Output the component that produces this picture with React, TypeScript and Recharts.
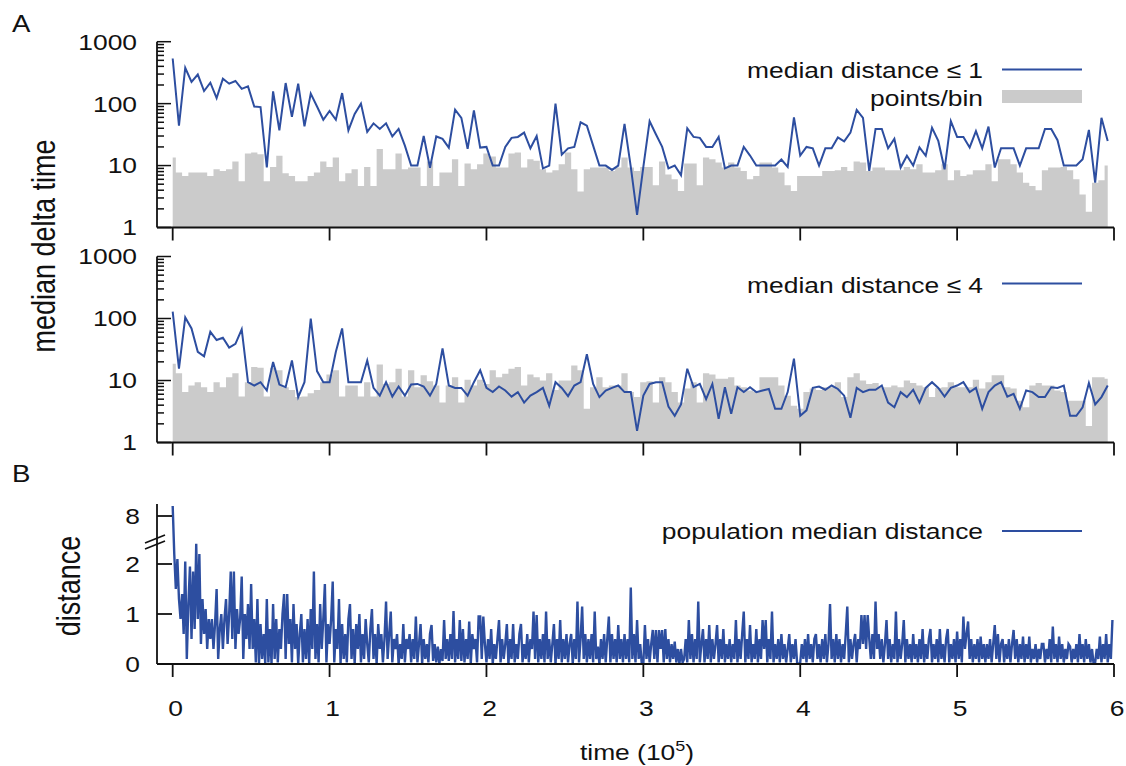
import React from "react"
import { ComposedChart, Area, Line, XAxis, YAxis } from "recharts"

const FONT = "Liberation Sans, Arial, sans-serif"
const BLUE = "#2d4ea0"
const GRAY = "#cbcbcb"
const INK = "#111"

// bins are 4000 steps wide, time axis in units of 10^5
const binWidth = 0.04
const stepWidth = 0.01

const timeTicks = [0, 1, 2, 3, 4, 5, 6]
const logTicks = [
  1, 2, 3, 4, 5, 6, 7, 8, 9, 10, 20, 30, 40, 50, 60, 70, 80, 90, 100, 200, 300, 400, 500, 600, 700, 800,
  900, 1000,
]
const logLabels = [1, 10, 100, 1000]
const distTicks = [0, 1, 2, 8]

// median delta time, median distance <= 1
const medianD1 = [
  535, 44, 380, 224, 295, 160, 218, 123, 252, 210, 232, 173, 190, 90, 88, 9.3, 158, 37, 215, 61, 210, 43, 145, 90, 55,
  76, 55, 148, 37, 68, 100, 35, 48, 39, 48, 29.5, 39, 21, 10, 10, 30, 9.2, 29.5, 27, 19.5, 80, 59, 18.6, 78, 19.5,
  20, 10, 10, 20, 28, 29, 34, 19, 30, 9, 10, 100, 15, 19, 20, 50, 44, 21, 10, 10, 8.5, 10, 47, 9.5, 1.6,
  9.5, 52, 32, 20, 9, 10, 7, 40, 29, 28, 20, 20, 29, 9, 10, 10, 20, 14.5, 10, 10, 10, 10, 12.5, 9.5, 60,
  14.5, 20, 19, 10, 19, 19, 28.5, 24.6, 34, 79, 59, 8.2, 39, 39, 19, 27, 9.3, 14.4, 10, 19.6, 14.4, 40.6, 25, 8.7, 52,
  29, 29, 19.6, 36, 19, 42.5, 9.3, 19, 19, 19, 10, 19, 19, 19, 39, 39, 25.7, 10, 10, 10, 12.7, 37.6, 5.3, 59, 25,
]

// points per bin, upper panel
const points1 = [
  13.5, 7.7, 6.8, 7.7, 7.7, 7.7, 6.8, 8.7, 8.2, 8.7, 11.6, 5.6, 15.7, 16.3, 15.3, 5.6, 9.5, 14.4, 7.5, 6.8, 5.6, 5.6,
  6.8, 7.7, 11.6, 9.5, 13.5, 5.6, 7.5, 8.7, 4.7, 9.5, 4.7, 18.5, 8.7, 8.7, 15.7, 8.7, 9.3, 9.3, 4.7, 11.6, 4.7, 7.7,
  7.7, 12.7, 4.7, 10.8, 8.7, 10.5, 15.7, 14, 9.3, 9.3, 15.7, 16.3, 9.3, 12.7, 12, 8.7, 7.7, 8.4, 10.5, 16.3, 8.7, 3.8,
  8.7, 9.3, 9.3, 9.3, 8.2, 9.3, 13.5, 9.3, 8.2, 9.5, 9.5, 4.8, 11.6, 7.2, 6.0, 3.9, 10.8, 10.8, 4.8, 13.5, 12.7, 11.2,
  9.3, 11.2, 9.3, 8.2, 6.0, 6.8, 11.2, 11.2, 9.3, 7.7, 4.8, 3.9, 6.8, 6.8, 6.8, 6.8, 8.2, 8.2, 8.4, 9.5, 8.2, 11.6,
  11.2, 8.2, 9.3, 9.3, 8.4, 8.4, 8.4, 9.5, 8.7, 10.5, 7.7, 7.7, 8.4, 10.5, 5.8, 8.4, 6.8, 7.2, 8.4, 8.4, 10.5, 5.6,
  12.7, 12.7, 10.5, 7.7, 5.3, 4.7, 4.0, 8.4, 9.3, 9.3, 9.5, 8.4, 6.0, 3.4, 1.8, 5.3, 5.8, 10,
]

// median delta time, median distance <= 4
const medianD4 = [
  129, 15.5, 104, 69, 29, 24.5, 61, 45, 49, 34, 39, 67, 9.4, 8.3, 9.4, 6.9, 19.9, 8.6, 7.8, 21, 5.4, 9.4, 100, 14.2,
  9.4, 9.4, 29, 69, 9.4, 9.4, 9.4, 21, 7.6, 5.7, 9.4, 5.5, 8, 5.7, 8.6, 8.8, 8, 5.7, 8.8, 33, 8.3, 7.6, 7.6, 5.7, 9.4,
  14.6, 7.6, 6.5, 8.0, 6.9, 5.5, 6.5, 4.4, 5.7, 6.5, 7.6, 3.9, 9.4, 7.6, 5.6, 8.3, 9.4, 26.5, 8.8, 5.4, 6.9, 7.6, 8.3,
  6.5, 6.5, 1.54, 5.7, 8.8, 9.4, 9.4, 3.8, 2.7, 4.1, 15.5, 7.8, 8.8, 5.0, 8.8, 2.4, 7.8, 2.9, 7.8, 6.5, 7.8, 6.5, 6.9,
  7.3, 3.5, 3.5, 6.5, 22.5, 2.7, 3.3, 7.6, 8.0, 7.1, 8.3, 7.3, 5.7, 2.5, 7.6, 6.5, 7.1, 7.1, 8.3, 4.4, 3.7, 6.5, 5.4,
  7.1, 4.4, 7.6, 9.4, 7.6, 5.5, 7.6, 8.3, 9.4, 6.5, 7.6, 3.5, 6.5, 8.3, 9.4, 5.5, 6.1, 3.5, 6.9, 6.5, 5.4, 5.4, 7.8,
  7.6, 8.3, 2.7, 2.7, 3.7, 9.1, 4.1, 5.4, 8.3,
]

// points per bin, lower panel
const points4 = [
  18.7, 13.1, 6.5, 8.3, 9.4, 7.8, 6.5, 9.4, 7.8, 11.3, 13.1, 5.5, 9.4, 16.5, 16.1, 5.5, 16.1, 14.6, 7.8, 7.0, 5.4, 5.5,
  6.2, 7.0, 9.4, 12.5, 14.6, 5.5, 8.3, 8.3, 5.5, 9.4, 5.5, 18.2, 8.8, 9.4, 15.5, 5.5, 14.6, 7.8, 12.1, 9.7, 8.3, 4.4,
  8.3, 11.3, 4.4, 10.3, 8.3, 10.3, 8.8, 14.6, 11.3, 12.8, 15.5, 16.5, 8.3, 12.5, 11.3, 10, 13.1, 7.0, 10, 10, 17.5,
  14.6, 3.5, 7.8, 11.3, 7.8, 8.3, 8.3, 13.1, 6.5, 5.4, 9.4, 9.7, 4.4, 11.3, 9.4, 6.5, 4.4, 7.4, 9.4, 4.4, 13.1, 12.5,
  10.7, 10.7, 11.3, 8.3, 7.8, 6.9, 6.5, 11.3, 11.3, 11.3, 8.3, 5.7, 3.9, 3.5, 6.5, 7.4, 7.0, 7.8, 7.8, 9.4, 5.4, 11.3,
  13.1, 10, 8.8, 9.1, 7.8, 7.8, 8.3, 7.8, 10, 9.1, 8.3, 7.8, 5.4, 7.6, 7.8, 9.4, 7.8, 7.8, 7.8, 10.3, 7.4, 9.4, 12.1,
  12.1, 7.8, 7.4, 4.7, 3.7, 8.3, 9.1, 8.3, 8.3, 6.9, 6.5, 4.7, 4.7, 4.7, 1.85, 11.3, 11.3, 10.7,
]

// population median distance, one value every 1000 steps
const distance = [
  10, 2.2, 1.5, 2.1, 1.3, 0.9, 1.4, 0.6, 2.05, 0.1, 1.2, 1.95, 0.5, 1.85, 0.7, 2.45, 0.9, 2.2, 0.4, 1.3, 0.6, 1.1, 0.3, 0.9, 0.5,
  0.9, 0.3, 0.8, 1.5, 0.1, 0.7, 1.0, 0.3, 0.9, 1.3, 0.4, 1.0, 1.85, 0.5, 1.85, 0.3, 1.1, 0.6, 0.9, 1.75, 0.1, 1.0, 0.5, 1.2, 0.3,
  1.6, 0.3, 0.9, 0.03, 1.3, 0.0, 0.8, 0.1, 0.6, 0.0, 1.3, 0.03, 0.7, 0.0, 1.2, 0.1, 0.9, 0.03, 0.7, 0.3, 1.0, 1.4, 0.1, 1.4, 0.4,
  0.9, 0.03, 1.2, 0.3, 0.8, 0.0, 0.6, 1.0, 0.03, 0.7, 0.1, 0.9, 0.0, 1.1, 0.3, 1.85, 0.1, 0.8, 0.03, 1.2, 0.3, 0.9, 1.6, 0.03, 0.8,
  0.4, 0.9, 1.65, 0.03, 0.7, 0.3, 1.3, 0.0, 0.8, 0.1, 0.6, 0.03, 0.9, 1.2, 0.1, 0.7, 0.0, 0.8, 0.3, 1.0, 0.03, 0.6, 0.1, 0.9, 0.4,
  0.03, 0.7, 1.1, 0.1, 0.6, 0.0, 0.8, 0.3, 0.6, 0.03, 0.5, 1.25, 0.1, 0.6, 1.05, 0.03, 0.5, 0.3, 0.6, 0.0, 0.4, 0.1, 0.8, 0.03, 0.5,
  0.3, 0.6, 0.03, 0.5, 0.1, 0.95, 0.03, 0.4, 0.8, 0.0, 0.5, 0.1, 0.4, 0.03, 0.6, 0.78, 0.06, 0.4, 0.03, 0.35, 0.0, 0.3, 0.06, 0.88, 0.1,
  0.5, 0.06, 0.6, 0.1, 1.06, 0.03, 0.5, 0.1, 0.88, 0.06, 0.7, 0.03, 0.5, 0.1, 0.85, 0.0, 0.6, 0.3, 0.5, 0.03, 0.95, 0.95, 0.1, 0.95, 0.4,
  0.03, 0.5, 0.1, 0.7, 0.0, 0.4, 0.1, 0.5, 0.88, 0.03, 0.5, 0.1, 0.4, 0.8, 0.0, 0.5, 0.1, 0.8, 0.03, 0.4, 0.1, 0.6, 0.8, 0.03, 0.4,
  0.1, 0.6, 0.03, 0.5, 0.3, 1.05, 0.1, 0.98, 0.03, 0.5, 0.1, 0.6, 0.03, 1.05, 0.1, 0.5, 0.03, 0.4, 0.8, 0.0, 0.5, 0.1, 0.88, 0.03, 0.5,
  0.1, 0.6, 0.03, 0.4, 0.6, 0.0, 0.5, 0.1, 1.25, 0.03, 0.5, 1.15, 0.1, 0.6, 0.03, 0.5, 0.1, 0.6, 0.03, 1.05, 0.1, 0.35, 0.0, 0.5, 0.1,
  0.6, 0.03, 0.5, 0.95, 0.03, 0.6, 0.1, 0.5, 0.03, 0.78, 0.1, 0.5, 0.03, 0.6, 0.1, 0.5, 0.03, 1.53, 0.1, 0.6, 0.03, 0.88, 0.1, 0.4, 0.0,
  0.0, 0.78, 0.1, 0.5, 0.03, 0.4, 0.68, 0.1, 0.68, 0.03, 0.68, 0.3, 0.68, 0.03, 0.7, 0.1, 0.5, 0.03, 0.4, 0.1, 0.45, 0.03, 0.3, 0.0, 0.3,
  0.03, 0.1, 0.5, 0.03, 0.88, 0.1, 0.6, 0.03, 0.5, 0.1, 1.25, 0.03, 0.4, 0.7, 0.03, 0.5, 0.1, 0.78, 0.03, 0.5, 0.1, 0.4, 0.78, 0.03, 0.5,
  0.1, 0.7, 0.03, 0.4, 0.1, 0.5, 0.03, 0.4, 0.1, 0.88, 0.03, 0.5, 0.1, 0.6, 1.05, 0.03, 0.5, 0.1, 0.78, 0.03, 0.4, 0.1, 0.7, 0.03, 0.5,
  0.1, 0.88, 0.3, 0.88, 0.03, 0.5, 0.1, 1.05, 0.03, 0.4, 0.1, 0.5, 0.03, 0.6, 0.1, 0.4, 0.03, 0.3, 0.6, 0.03, 0.4, 0.1, 0.5, 0.03, 0.0,
  0.03, 0.4, 0.1, 0.5, 0.03, 0.6, 0.1, 0.4, 0.03, 0.5, 0.6, 0.1, 0.4, 0.03, 0.5, 0.1, 0.6, 0.03, 0.4, 1.2, 0.1, 0.5, 0.03, 0.6, 0.1,
  0.5, 0.03, 0.4, 0.1, 0.6, 1.15, 0.03, 0.5, 0.1, 0.4, 0.6, 0.03, 0.5, 0.3, 0.98, 0.4, 0.98, 0.3, 0.98, 0.5, 0.1, 0.6, 0.1, 1.25, 0.3,
  0.6, 0.1, 0.5, 0.03, 0.4, 0.88, 0.1, 0.5, 0.03, 0.4, 0.1, 1.05, 0.03, 0.5, 0.1, 0.4, 0.88, 0.03, 0.5, 0.1, 0.4, 0.03, 0.6, 0.1, 0.4,
  0.03, 0.5, 0.1, 0.7, 0.03, 0.4, 0.1, 0.5, 0.7, 0.03, 0.4, 0.1, 0.5, 0.03, 0.7, 0.1, 0.4, 0.03, 0.5, 0.7, 0.03, 0.4, 0.1, 0.5, 0.03,
  0.65, 0.1, 0.5, 0.03, 0.95, 0.3, 0.6, 0.85, 0.1, 0.5, 0.03, 0.4, 0.1, 0.5, 0.03, 0.55, 0.1, 0.4, 0.03, 0.4, 0.1, 0.5, 0.03, 0.4, 0.78,
  0.1, 0.6, 0.03, 0.4, 0.5, 0.03, 0.4, 0.1, 0.5, 0.03, 0.4, 0.68, 0.1, 0.5, 0.03, 0.4, 0.1, 0.55, 0.03, 0.4, 0.1, 0.55, 0.03, 0.3, 0.1,
  0.4, 0.03, 0.3, 0.1, 0.4, 0.4, 0.03, 0.3, 0.1, 0.5, 0.03, 0.75, 0.1, 0.4, 0.03, 0.55, 0.1, 0.4, 0.03, 0.3, 0.1, 0.4, 0.35, 0.03, 0.3,
  0.1, 0.4, 0.03, 0.6, 0.1, 0.4, 0.03, 0.5, 0.1, 0.4, 0.03, 0.3, 0.0, 0.03, 0.3, 0.1, 0.55, 0.03, 0.4, 0.1, 0.6, 0.03, 0.4, 0.1, 0.88,
]

// broken distance axis: linear up to 2.4, compressed above
const squash = (v: number) => (v <= 2.4 ? v : 2.4 + (v - 2.4) * 0.1)
const BREAK_AT = 2.48

const rows1 = medianD1.map((m, i) => ({ t: i * binWidth, m, n: points1[i] }))
const rows4 = medianD4.map((m, i) => ({ t: i * binWidth, m, n: points4[i] }))
const distRows = distance.map((d, i) => ({ t: i * stepWidth, d: squash(d) }))

const axisStyle = { stroke: INK, strokeWidth: 1.8 }

function Txt({ x, y, anchor = "start", size = 22, rotate = false, dy, children }: any) {
  return (
    <text
      transform={`translate(${x},${y}) scale(1.2,1)${rotate ? " rotate(-90)" : ""}`}
      textAnchor={anchor}
      dy={dy}
      fontFamily={FONT}
      fontSize={size}
      fill={INK}
    >
      {children}
    </text>
  )
}

function LogTick({ x, y, payload }: any) {
  const major = logLabels.includes(payload.value)
  return (
    <g>
      <line x1={x} x2={x + (major ? 14 : 7)} y1={y} y2={y} stroke={INK} strokeWidth={1.5} />
      {major && (
        <Txt x={x - 20} y={y} anchor="end" dy="0.36em">
          {payload.value}
        </Txt>
      )}
    </g>
  )
}

function DistTick({ x, y, payload }: any) {
  if (payload.value === BREAK_AT) {
    return (
      <g stroke={INK} strokeWidth={1.6}>
        <line x1={x - 12} y1={y + 3} x2={x + 8} y2={y - 5} />
        <line x1={x - 12} y1={y + 9} x2={x + 8} y2={y + 1} />
      </g>
    )
  }
  const label = distTicks.find((d) => Math.abs(squash(d) - payload.value) < 1e-6)
  return (
    <g>
      <line x1={x} x2={x + 15} y1={y} y2={y} stroke={INK} strokeWidth={1.8} />
      <Txt x={x - 17} y={y} anchor="end" dy="0.36em">
        {label}
      </Txt>
    </g>
  )
}

function TimeTick({ x, y, payload }: any) {
  return (
    <Txt x={x + 3} y={y + 39} anchor="middle">
      {payload.value}
    </Txt>
  )
}

function LogPanel({ data, top, height, marginTop }: any) {
  return (
    <div style={{ position: "absolute", left: 0, top }}>
      <ComposedChart width={1126} height={height} data={data} margin={{ top: marginTop, right: 12, bottom: 0, left: 0 }}>
        <XAxis
          dataKey="t"
          type="number"
          domain={[-0.1, 6]}
          ticks={timeTicks}
          allowDataOverflow
          height={22.5}
          tickSize={13}
          tickFormatter={() => ""}
          axisLine={axisStyle}
          tickLine={axisStyle}
        />
        <YAxis
          scale="log"
          type="number"
          domain={[1, 1000]}
          allowDataOverflow
          ticks={logTicks}
          interval={0}
          width={157}
          tickSize={0}
          tickMargin={0}
          tickLine={false}
          axisLine={axisStyle}
          tick={(p: any) => <LogTick {...p} />}
        />
        {/* points/bin as a centred step histogram */}
        <Area
          dataKey="n"
          type="step"
          baseValue={1}
          fill={GRAY}
          fillOpacity={1}
          stroke="none"
          isAnimationActive={false}
        />
        <Line dataKey="m" type="linear" stroke={BLUE} strokeWidth={2} dot={false} isAnimationActive={false} />
      </ComposedChart>
    </div>
  )
}

export default function App() {
  return (
    <div style={{ position: "absolute", left: 0, top: 0, width: 1126, height: 766, background: "#fff" }}>
      <LogPanel data={rows1} top={0} height={250} marginTop={41.7} />
      <LogPanel data={rows4} top={238} height={227} marginTop={18.5} />

      <div style={{ position: "absolute", left: 0, top: 465 }}>
        <ComposedChart width={1126} height={301} data={distRows} margin={{ top: 39, right: 12, bottom: 0, left: 0 }}>
          <XAxis
            dataKey="t"
            type="number"
            domain={[-0.1, 6]}
            ticks={timeTicks}
            allowDataOverflow
            height={102}
            tickSize={13}
            tickMargin={0}
            axisLine={axisStyle}
            tickLine={axisStyle}
            tick={(p: any) => <TimeTick {...p} />}
          />
          <YAxis
            type="number"
            domain={[0, 3.2]}
            allowDataOverflow
            ticks={[...distTicks.map(squash), BREAK_AT]}
            interval={0}
            width={157}
            tickSize={0}
            tickMargin={0}
            tickLine={false}
            axisLine={axisStyle}
            tick={(p: any) => <DistTick {...p} />}
          />
          <Line dataKey="d" type="linear" stroke={BLUE} strokeWidth={2.4} dot={false} isAnimationActive={false} />
        </ComposedChart>
      </div>

      <svg width={1126} height={766} style={{ position: "absolute", left: 0, top: 0, pointerEvents: "none" }}>
        <Txt x={12} y={32} size={23}>A</Txt>
        <Txt x={12} y={482} size={23}>B</Txt>
        <Txt x={55} y={246} anchor="middle" size={27} rotate>median delta time</Txt>
        <Txt x={80} y={586} anchor="middle" size={27} rotate>distance</Txt>
        <text x={637} y={760} textAnchor="middle" fontFamily={FONT} fontSize={22} fill={INK}
          transform="translate(637,0) scale(1.2,1) translate(-637,0)">
          time (10<tspan dy={-9} fontSize={15}>5</tspan><tspan dy={9}>)</tspan>
        </text>

        <Txt x={983} y={78} anchor="end">median distance ≤ 1</Txt>
        <line x1={1002} x2={1082} y1={69.5} y2={69.5} stroke={BLUE} strokeWidth={2} />
        <Txt x={983} y={106} anchor="end">points/bin</Txt>
        <rect x={1002} y={90} width={80} height={13} fill={GRAY} />

        <Txt x={983} y={292.5} anchor="end">median distance ≤ 4</Txt>
        <line x1={1002} x2={1082} y1={283.5} y2={283.5} stroke={BLUE} strokeWidth={2} />

        <Txt x={983} y={539} anchor="end">population median distance</Txt>
        <line x1={1002} x2={1082} y1={531} y2={531} stroke={BLUE} strokeWidth={2} />
      </svg>
    </div>
  )
}
